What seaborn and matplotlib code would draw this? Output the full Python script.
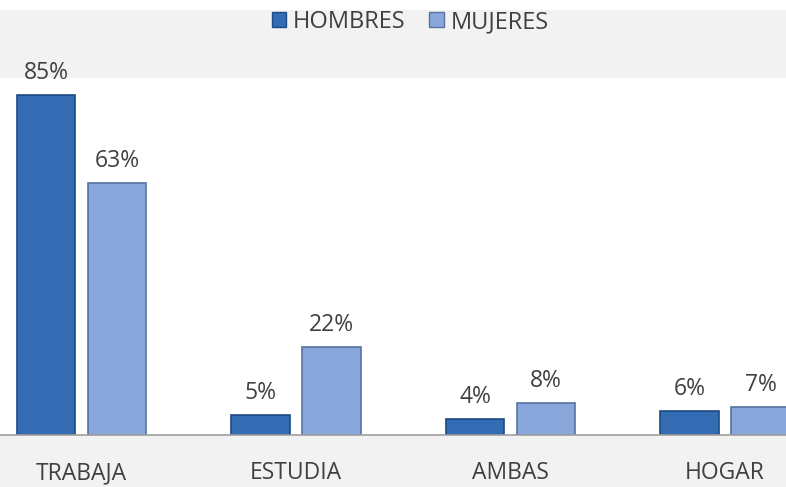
import matplotlib
matplotlib.use("Agg")
import matplotlib.pyplot as plt
import pandas as pd
import seaborn as sns

categories = ["TRABAJA", "ESTUDIA", "AMBAS", "HOGAR"]
hombres = [85, 5, 4, 6]
mujeres = [63, 22, 8, 7]
series = ["HOMBRES", "MUJERES"]

df = pd.DataFrame({
    "categoria": categories * 2,
    "valor": hombres + mujeres,
    "sexo": [series[0]] * 4 + [series[1]] * 4,
})

sns.set_theme(style="white")
plt.rcParams["font.family"] = ["Open Sans", "DejaVu Sans"]

text_color = "#404040"
palette = {"HOMBRES": "#336cb2", "MUJERES": "#89a7da"}
edges = {"HOMBRES": "#1d4a85", "MUJERES": "#5672a3"}

fig = plt.figure(figsize=(7.86, 4.87), dpi=100, facecolor="#f2f2f2")
fig.patches.append(plt.Rectangle((0, 0.98), 1, 0.02, transform=fig.transFigure,
                                 facecolor="white", edgecolor="none", zorder=0))
ax = fig.add_axes([0, 0.1068, 1, 0.733])
ax.set_facecolor("white")

sns.barplot(
    data=df,
    x="categoria",
    y="valor",
    hue="sexo",
    palette=palette,
    saturation=1,
    width=0.662,
    gap=0.18,
    legend=False,
    ax=ax,
)

for container, name in zip(ax.containers, series):
    for bar in container:
        bar.set_edgecolor(edges[name])
        bar.set_linewidth(1.2)
    ax.bar_label(
        container,
        labels=[f"{v:.0f}%" for v in container.datavalues],
        padding=7,
        fontsize=16.5,
        color=text_color,
    )

ax.set_xlim(-0.38, 3.284)
ax.set_ylim(0, 89.25)
ax.set_yticks([])
ax.set_xlabel("")
ax.set_ylabel("")
ax.tick_params(axis="x", length=0, pad=19, labelsize=16.5, colors=text_color)

for side in ["top", "left", "right"]:
    ax.spines[side].set_visible(False)
ax.spines["bottom"].set_color("#a0a0a0")
ax.spines["bottom"].set_linewidth(1.2)

handles = [plt.Rectangle((0, 0), 1, 1, facecolor=palette[s], edgecolor=edges[s])
           for s in series]
fig.legend(
    handles,
    series,
    loc="center",
    bbox_to_anchor=(0.522, 0.955),
    ncol=2,
    frameon=False,
    fontsize=17,
    handlelength=0.6,
    handleheight=0.6,
    handletextpad=0.3,
    columnspacing=1.0,
    labelcolor=text_color,
)

fig.savefig("out.png", dpi=100, facecolor=fig.get_facecolor())
